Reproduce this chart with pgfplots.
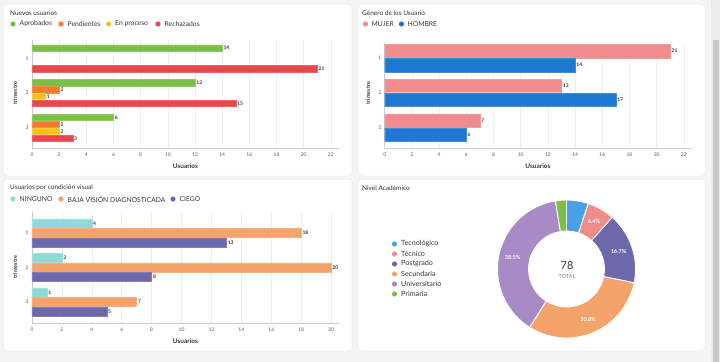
\documentclass[border=0pt]{standalone}
\usepackage{fontspec}
\setmainfont{Lato}
\usepackage{pgfplots}
\pgfplotsset{compat=1.18}
\definecolor{bgc}{RGB}{244,244,245}
\definecolor{cardb}{RGB}{232,232,236}
\definecolor{axisc}{RGB}{200,203,214}
\definecolor{gridc}{RGB}{236,236,242}
\definecolor{tickc}{RGB}{90,90,100}
\definecolor{labc}{RGB}{55,55,60}
\definecolor{titc}{RGB}{50,50,55}
\definecolor{cgreen}{RGB}{122,193,67}
\definecolor{corange}{RGB}{240,125,46}
\definecolor{cyellow}{RGB}{247,195,24}
\definecolor{cred}{RGB}{229,72,77}
\definecolor{cpink}{RGB}{240,140,140}
\definecolor{cblue}{RGB}{31,120,210}
\definecolor{cteal}{RGB}{143,217,215}
\definecolor{cpeach}{RGB}{244,164,106}
\definecolor{cpurple}{RGB}{108,104,171}
\definecolor{clblue}{RGB}{74,160,230}
\definecolor{clav}{RGB}{168,138,198}
\definecolor{totc}{RGB}{125,125,135}

\pgfplotsset{
  hbars/.style={
    scale only axis, anchor=south west, clip=false,
    axis x line*=bottom, axis y line*=left,
    axis line style={-, draw=axisc, line width=0.6bp},
    xmajorgrids, grid style={draw=gridc, line width=0.5bp},
    major tick length=0pt,
    ytick={1,2,3}, yticklabels={3,2,1},
    /pgf/number format/assume math mode=true,
    tick label style={font=\fontsize{5}{6}\selectfont, text=tickc},
    xticklabel style={anchor=center, yshift=-7bp},
    yticklabel style={anchor=center, xshift=-5bp},
    point meta=x,
    nodes near coords, nodes near coords align=horizontal,
    every node near coord/.append style={font=\fontsize{5}{6}\selectfont\bfseries, text=labc, anchor=west, inner sep=1.2bp},
  },
  lbl/.style={every node near coord/.append style={yshift=#1}},
}

% donut segment: start angle, end angle, colour (angles from the counts 4,5,13,24,30,2 of 78)
\newcommand\seg[3]{%
  \filldraw[fill=#3, draw=white, line width=0.9bp]
    (axis cs:0,0) ++(#1:69bp) arc[start angle=#1, end angle=#2, radius=69bp]
    -- ++(#2:-31.05bp) arc[start angle=#2, end angle=#1, radius=37.95bp] -- cycle;}
\newcommand\plab[2]{%
  \path (axis cs:0,0) ++(#1:55bp) node[text=white, font=\fontsize{5.5}{6}\selectfont\bfseries] {#2};}

\begin{document}
\begin{tikzpicture}
% background and cards
\fill[bgc] (0,0) rectangle (720bp,-362bp);
\filldraw[fill=white, draw=cardb, line width=0.5bp, rounded corners=4bp] (3bp,-4bp) rectangle (352bp,-176bp);
\filldraw[fill=white, draw=cardb, line width=0.5bp, rounded corners=4bp] (358bp,-4bp) rectangle (705bp,-176bp);
\filldraw[fill=white, draw=cardb, line width=0.5bp, rounded corners=4bp] (3bp,-179bp) rectangle (352bp,-351bp);
\filldraw[fill=white, draw=cardb, line width=0.5bp, rounded corners=4bp] (358bp,-179bp) rectangle (705bp,-351bp);
% scrollbar
\fill[white!93!black] (711bp,0) rectangle (720bp,-362bp);
\fill[white!78!black] (713bp,-40bp) rectangle (719bp,-362bp);

% ---------- Panel 1: Nuevos usuarios ----------
\node[anchor=west, inner sep=0, text=titc, font=\fontsize{6.5}{7}\selectfont] at (10bp,-13bp) {Nuevos usuarios};
\fill[cgreen] (13bp,-24bp) circle (2.6bp);
\node[anchor=west, inner sep=0, text=labc, font=\fontsize{6.8}{7}\selectfont] at (19.5bp,-24bp) {Aprobados};
\fill[corange] (61bp,-24bp) circle (2.6bp);
\node[anchor=west, inner sep=0, text=labc, font=\fontsize{6.8}{7}\selectfont] at (67.5bp,-24bp) {Pendientes};
\fill[cyellow] (108.5bp,-24bp) circle (2.6bp);
\node[anchor=west, inner sep=0, text=labc, font=\fontsize{6.8}{7}\selectfont] at (115bp,-24bp) {En proceso};
\fill[cred] (158bp,-24bp) circle (2.6bp);
\node[anchor=west, inner sep=0, text=labc, font=\fontsize{6.8}{7}\selectfont] at (164.5bp,-24bp) {Rechazados};

\begin{axis}[hbars, at={(32bp,-148bp)}, width=307bp, height=108bp,
  xmin=0, xmax=22.6, ymin=0.42, ymax=3.53, xtick={0,2,...,22}]
\addplot[xbar, bar width=0.18, bar shift=0.3, lbl=10.42bp, fill=cgreen, draw=cgreen!85!white] coordinates {(14,3) (12,2) (6,1)};
\addplot[xbar, bar width=0.18, bar shift=0.1, lbl=3.47bp, fill=corange, draw=corange!85!white] coordinates {(2,2) (2,1)};
\addplot[xbar, bar width=0.18, bar shift=-0.1, lbl=-3.47bp, fill=cyellow, draw=cyellow!85!white] coordinates {(1,2) (2,1)};
\addplot[xbar, bar width=0.18, bar shift=-0.3, lbl=-10.42bp, fill=cred, draw=cred!85!white] coordinates {(21,3) (15,2) (3,1)};
\end{axis}
\node[text=labc, font=\fontsize{6.5}{7}\selectfont\bfseries] at (185.5bp,-166bp) {Usuarios};
\node[rotate=90, text=labc, font=\fontsize{5.5}{6}\selectfont\bfseries] at (15bp,-93bp) {trimestre};

% ---------- Panel 2: Genero ----------
\node[anchor=west, inner sep=0, text=titc, font=\fontsize{6.5}{7}\selectfont] at (362bp,-13bp) {Género de los Usuario};
\fill[cpink] (365.5bp,-24bp) circle (2.6bp);
\node[anchor=west, inner sep=0, text=labc, font=\fontsize{6.8}{7}\selectfont] at (371.5bp,-24bp) {MUJER};
\fill[cblue] (401.5bp,-24bp) circle (2.6bp);
\node[anchor=west, inner sep=0, text=labc, font=\fontsize{6.8}{7}\selectfont] at (407.5bp,-24bp) {HOMBRE};

\begin{axis}[hbars, at={(384.7bp,-148bp)}, width=307.3bp, height=105bp,
  xmin=0, xmax=22.6, ymin=0.42, ymax=3.43, xtick={0,2,...,22}]
\addplot[xbar, bar width=0.39, bar shift=0.2, lbl=6.98bp, fill=cpink, draw=cpink!85!white] coordinates {(21,3) (13,2) (7,1)};
\addplot[xbar, bar width=0.39, bar shift=-0.2, lbl=-6.98bp, fill=cblue, draw=cblue!85!white] coordinates {(14,3) (17,2) (6,1)};
\end{axis}
\node[text=labc, font=\fontsize{6.5}{7}\selectfont\bfseries] at (538bp,-166bp) {Usuarios};
\node[rotate=90, text=labc, font=\fontsize{5.5}{6}\selectfont\bfseries] at (368bp,-93bp) {trimestre};

% ---------- Panel 3: Condicion visual ----------
\node[anchor=west, inner sep=0, text=titc, font=\fontsize{6.5}{7}\selectfont] at (10bp,-188bp) {Usuarios por condición visual};
\fill[cteal] (13bp,-199bp) circle (2.6bp);
\node[anchor=west, inner sep=0, text=labc, font=\fontsize{6.8}{7}\selectfont] at (19.5bp,-199bp) {NINGUNO};
\fill[cpeach] (61bp,-199bp) circle (2.6bp);
\node[anchor=west, inner sep=0, text=labc, font=\fontsize{6.8}{7}\selectfont] at (67.5bp,-199bp) {BAJA VISIÓN DIAGNOSTICADA};
\fill[cpurple] (173bp,-199bp) circle (2.6bp);
\node[anchor=west, inner sep=0, text=labc, font=\fontsize{6.8}{7}\selectfont] at (179.5bp,-199bp) {CIEGO};

\begin{axis}[hbars, at={(32bp,-323bp)}, width=307bp, height=111.3bp,
  xmin=0, xmax=20.53, ymin=0.39, ymax=3.61, xtick={0,2,...,20}]
\addplot[xbar, bar width=0.26, bar shift=0.275, lbl=9.51bp, fill=cteal, draw=cteal!85!white] coordinates {(4,3) (2,2) (1,1)};
\addplot[xbar, bar width=0.26, bar shift=0, lbl=0bp, fill=cpeach, draw=cpeach!85!white] coordinates {(18,3) (20,2) (7,1)};
\addplot[xbar, bar width=0.26, bar shift=-0.275, lbl=-9.51bp, fill=cpurple, draw=cpurple!85!white] coordinates {(13,3) (8,2) (5,1)};
\end{axis}
\node[text=labc, font=\fontsize{6.5}{7}\selectfont\bfseries] at (185.5bp,-341bp) {Usuarios};
\node[rotate=90, text=labc, font=\fontsize{5.5}{6}\selectfont\bfseries] at (15bp,-267bp) {trimestre};

% ---------- Panel 4: Nivel Academico ----------
\node[anchor=west, inner sep=0, text=titc, font=\fontsize{6.5}{7}\selectfont] at (362bp,-188bp) {Nivel Académico};
\foreach \yy/\cc/\nm in {244/clblue/Tecnológico, 254/cpink/Técnico, 264/cpurple/Postgrado, 274/cpeach/Secundaria, 284/clav/Universitario, 294/cgreen/Primaria}{
  \fill[\cc] (394.5bp,-\yy bp) circle (2.6bp);
  \node[anchor=west, inner sep=0, text=labc, font=\fontsize{7.2}{8}\selectfont] at (401bp,-\yy bp) {\nm};
}
\begin{axis}[at={(566.5bp,-269bp)}, anchor=center, width=138bp, height=138bp, scale only axis,
  hide axis, clip=false, xmin=-1, xmax=1, ymin=-1, ymax=1]
\seg{90}{71.538}{clblue}
\seg{71.538}{48.462}{cpink}
\seg{48.462}{-11.538}{cpurple}
\seg{-11.538}{-122.308}{cpeach}
\seg{-122.308}{-260.769}{clav}
\seg{-260.769}{-270}{cgreen}
\plab{60}{6.4\%}
\plab{18.46}{16.7\%}
\plab{-66.92}{30.8\%}
\plab{-191.54}{38.5\%}
\end{axis}
\node[text=labc, font=\fontsize{11}{12}\selectfont] at (567bp,-265.5bp) {78};
\node[text=totc, font=\fontsize{5.5}{6}\selectfont] at (567bp,-277bp) {TOTAL};

\pgfresetboundingbox
\useasboundingbox (0,0) rectangle (720bp,-362bp);
\end{tikzpicture}
\end{document}
